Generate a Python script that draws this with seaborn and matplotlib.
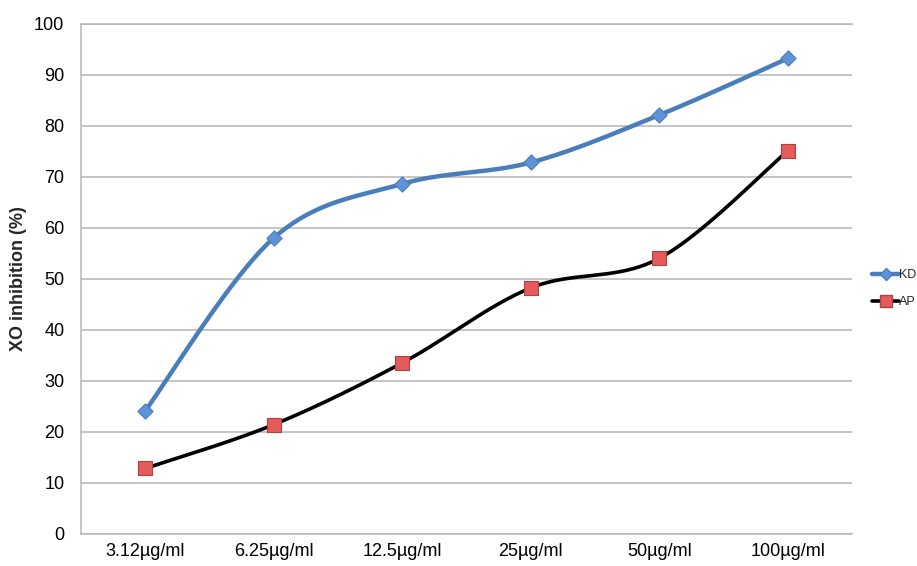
import numpy as np
import pandas as pd
import matplotlib
matplotlib.use("Agg")
import matplotlib.pyplot as plt
import seaborn as sns
from matplotlib.lines import Line2D

# ---- data ----
concentrations = ["3.12µg/ml", "6.25µg/ml", "12.5µg/ml", "25µg/ml", "50µg/ml", "100µg/ml"]
kd_values = [24.1, 58.0, 68.6, 72.8, 82.1, 93.2]
ap_values = [12.8, 21.4, 33.5, 48.2, 54.0, 75.1]
yticks = [0, 10, 20, 30, 40, 50, 60, 70, 80, 90, 100]

KD_LINE = "#4A7EBB"
KD_FILL = "#5E93DA"
AP_LINE = "#000000"
AP_FILL = "#E35B5B"
AP_EDGE = "#B54040"
GRID = "#B5B5B5"


def smooth_curve(xs, ys, n=40):
    # Excel-style smoothed line: cubic Bezier with Catmull-Rom control points
    pts = np.column_stack([xs, ys]).astype(float)
    padded = np.vstack([pts[0], pts, pts[-1]])
    out = []
    t = np.linspace(0, 1, n)[:, None]
    for i in range(len(pts) - 1):
        p0, p1, p2, p3 = padded[i], padded[i + 1], padded[i + 2], padded[i + 3]
        c1 = p1 + (p2 - p0) / 6
        c2 = p2 - (p3 - p1) / 6
        seg = ((1 - t) ** 3) * p1 + 3 * ((1 - t) ** 2) * t * c1 + 3 * (1 - t) * t ** 2 * c2 + t ** 3 * p2
        out.append(seg if i == 0 else seg[1:])
    out = np.vstack(out)
    return out[:, 0], out[:, 1]


pos = np.arange(len(concentrations))
kd_sx, kd_sy = smooth_curve(pos, kd_values)
ap_sx, ap_sy = smooth_curve(pos, ap_values)

curves = pd.concat([
    pd.DataFrame({"x": kd_sx, "y": kd_sy, "series": "KD"}),
    pd.DataFrame({"x": ap_sx, "y": ap_sy, "series": "AP"}),
])
points = pd.DataFrame({
    "x": np.concatenate([pos, pos]),
    "y": kd_values + ap_values,
    "series": ["KD"] * len(pos) + ["AP"] * len(pos),
})

sns.set_style("white")
plt.rcParams["font.family"] = ["Liberation Sans", "DejaVu Sans"]

fig = plt.figure(figsize=(9.17, 5.66), dpi=100)
ax = fig.add_axes([0.0883, 0.057, 0.8408, 0.901])

sns.lineplot(data=curves, x="x", y="y", hue="series", palette={"KD": KD_LINE, "AP": AP_LINE},
             sort=False, estimator=None, linewidth=3.0, legend=False, ax=ax)
ax.lines[0].set_linewidth(3.2)
ax.lines[1].set_linewidth(2.6)

kd_pts = points[points["series"] == "KD"]
ap_pts = points[points["series"] == "AP"]
sns.scatterplot(data=kd_pts, x="x", y="y", marker="D", s=60, color=KD_FILL,
                edgecolor=KD_LINE, linewidth=0.8, zorder=5, legend=False, ax=ax)
sns.scatterplot(data=ap_pts, x="x", y="y", marker="s", s=110, color=AP_FILL,
                edgecolor=AP_EDGE, linewidth=0.8, zorder=5, legend=False, ax=ax)

ax.set_xlim(-0.5, len(concentrations) - 0.5)
ax.set_ylim(0, 100)
ax.set_xticks(pos)
ax.set_xticklabels(concentrations)
ax.set_yticks(yticks)
ax.set_xlabel("")
ax.set_ylabel("XO inhibition (%)", fontsize=13, fontweight="bold", labelpad=5)

ax.yaxis.grid(True, color=GRID, linewidth=1.1)
ax.set_axisbelow(True)
ax.tick_params(axis="both", length=0, labelsize=13, colors="black")
ax.tick_params(axis="y", pad=12)
ax.tick_params(axis="x", pad=7)
for side in ["left", "top", "bottom"]:
    ax.spines[side].set_color(GRID)
    ax.spines[side].set_linewidth(1.1)
ax.spines["right"].set_visible(False)

handles = [
    Line2D([0], [0], color=KD_LINE, linewidth=3.2, marker="D", markersize=6,
           markerfacecolor=KD_FILL, markeredgecolor=KD_LINE),
    Line2D([0], [0], color=AP_LINE, linewidth=2.6, marker="s", markersize=8,
           markerfacecolor=AP_FILL, markeredgecolor=AP_EDGE),
]
fig.legend(handles, ["KD", "AP"], loc="center left", bbox_to_anchor=(0.946, 0.49),
           frameon=False, fontsize=9, handlelength=2.1, handletextpad=0.0,
           labelspacing=1.2, borderaxespad=0)

fig.savefig("out.png", dpi=100)
